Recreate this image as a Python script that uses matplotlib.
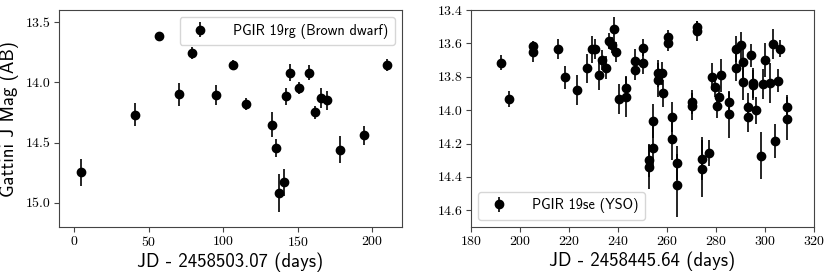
import matplotlib
matplotlib.use('Agg')
import matplotlib.pyplot as plt
import numpy as np

plt.rcParams['axes.formatter.use_mathtext'] = True

# PGIR 19rg (Brown dwarf)
bd_t = [4.7, 41.1, 57.2, 70.3, 79.2, 95.4, 106.6, 115.6, 132.7, 135.3, 137.6,
        140.7, 142.5, 144.6, 150.6, 157.8, 161.6, 165.4, 169.9, 178.4, 194.8, 210.1]
bd_mag = [14.747, 14.27, 13.617, 14.10, 13.758, 14.106, 13.856, 14.18, 14.35, 14.544, 14.917,
          14.83, 14.117, 13.92, 14.05, 13.92, 14.25, 14.13, 14.15, 14.558, 14.44, 13.853]
bd_err = [0.11, 0.095, 0.02, 0.095, 0.05, 0.08, 0.04, 0.05, 0.10, 0.075, 0.155,
          0.11, 0.07, 0.07, 0.05, 0.06, 0.05, 0.08, 0.08, 0.11, 0.08, 0.05]

# PGIR 19se (YSO)
yso_t = [192.4, 195.5, 205.3, 205.3, 215.3, 218.3, 223.4, 227.3, 229.2, 230.6,
         232.2, 233.6, 235.2, 236.2, 237.4, 238.4, 239.3, 240.3, 243.4, 243.4,
         247.0, 247.0, 250.3, 250.3, 252.5, 252.5, 254.4, 254.4, 256.3, 256.3,
         257.9, 258.3, 260.2, 260.2, 262.1, 262.1, 264.1, 264.1, 270.0, 270.0,
         272.3, 272.3, 274.2, 274.2, 277.2, 278.2, 279.4, 280.2, 281.3, 282.1,
         285.1, 285.1, 288.1, 288.1, 290.2, 291.1, 291.1, 293.0, 293.0, 294.2,
         295.2, 295.2, 296.3, 298.3, 299.0, 300.1, 301.9, 303.1, 304.1, 305.1,
         306.1, 309.1, 309.1]
yso_mag = [13.716, 13.934, 13.614, 13.654, 13.632, 13.804, 13.88, 13.75, 13.636, 13.632,
           13.792, 13.702, 13.746, 13.586, 13.61, 13.514, 13.65, 13.934, 13.92, 13.866,
           13.706, 13.762, 13.626, 13.716, 14.30, 14.34, 14.066, 14.224, 13.78, 13.82,
           13.78, 13.90, 13.56, 13.596, 14.04, 14.17, 14.316, 14.45, 13.952, 13.976,
           13.504, 13.524, 14.29, 14.35, 14.256, 13.80, 13.864, 13.974, 13.924, 13.792,
           13.952, 14.024, 13.634, 13.746, 13.612, 13.71, 13.83, 13.98, 14.04, 13.672,
           13.84, 13.85, 14.00, 14.272, 13.844, 13.70, 13.836, 13.602, 14.184, 13.824,
           13.632, 13.98, 14.05]
yso_err = [0.045, 0.05, 0.03, 0.06, 0.06, 0.07, 0.09, 0.085, 0.08, 0.06,
           0.09, 0.06, 0.07, 0.05, 0.05, 0.07, 0.06, 0.09, 0.12, 0.07,
           0.07, 0.06, 0.05, 0.07, 0.10, 0.13, 0.10, 0.13, 0.08, 0.10,
           0.07, 0.08, 0.04, 0.05, 0.09, 0.13, 0.10, 0.19, 0.07, 0.08,
           0.04, 0.06, 0.13, 0.17, 0.08, 0.08, 0.06, 0.07, 0.07, 0.10,
           0.06, 0.14, 0.08, 0.08, 0.08, 0.10, 0.11, 0.08, 0.09, 0.07,
           0.09, 0.09, 0.08, 0.14, 0.09, 0.10, 0.12, 0.09, 0.10, 0.07,
           0.05, 0.07, 0.13]

fig = plt.figure(figsize=(8.3, 2.74), dpi=100)
ax1 = fig.add_axes([0.0711, 0.1715, 0.4133, 0.792])
ax2 = fig.add_axes([0.5675, 0.1715, 0.4133, 0.792])

lab_font = {'family': 'cmss10', 'size': 13.5}
leg_font = {'family': 'cmss10', 'size': 10.3}

def style_ax(ax):
    for s in ax.spines.values():
        s.set_color('#444444')
        s.set_linewidth(0.8)
    ax.tick_params(direction='out', length=3.5, width=0.8, color='#444444', labelsize=10,
                   pad=2.5)
    for t in ax.get_xticklabels() + ax.get_yticklabels():
        t.set_family('cmr10')

ax1.errorbar(bd_t, bd_mag, yerr=bd_err, fmt='o', color='k', ms=6, elinewidth=1.2,
             capsize=0, label='PGIR 19rg (Brown dwarf)')
ax1.set_xlim(-10, 220)
ax1.set_ylim(15.2, 13.4)
ax1.set_xticks([0, 50, 100, 150, 200])
ax1.set_yticks([13.5, 14.0, 14.5, 15.0])
ax1.set_yticklabels(['13.5', '14.0', '14.5', '15.0'])
ax1.set_xlabel('JD - 2458503.07 (days)', fontdict=lab_font, labelpad=2)
ax1.set_ylabel('Gattini J Mag (AB)', fontdict=lab_font, labelpad=5)
ax1.legend(loc='upper right', prop=leg_font, handletextpad=1.3, borderpad=0.45)
style_ax(ax1)

ax2.errorbar(yso_t, yso_mag, yerr=yso_err, fmt='o', color='k', ms=6, elinewidth=1.2,
             capsize=0, label='PGIR 19se (YSO)')
ax2.set_xlim(180, 320)
ax2.set_ylim(14.7, 13.4)
ax2.set_xticks(np.arange(180, 321, 20))
ax2.set_yticks([13.4, 13.6, 13.8, 14.0, 14.2, 14.4, 14.6])
ax2.set_yticklabels(['13.4', '13.6', '13.8', '14.0', '14.2', '14.4', '14.6'])
ax2.set_xlabel('JD - 2458445.64 (days)', fontdict=lab_font, labelpad=2)
ax2.legend(loc='lower left', prop=leg_font, handletextpad=1.3, borderpad=0.45)
style_ax(ax2)

fig.savefig('out.png', dpi=100)
